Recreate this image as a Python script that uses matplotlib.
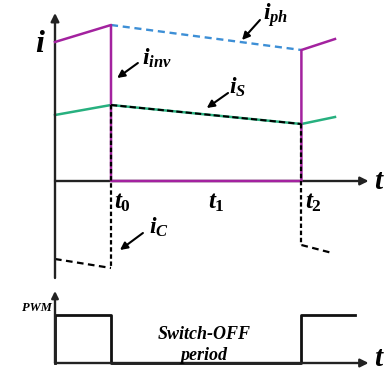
import matplotlib
matplotlib.use("Agg")
import matplotlib.pyplot as plt

plt.rcParams['mathtext.fontset'] = 'custom'
plt.rcParams['mathtext.it'] = 'Liberation Serif:italic:bold'
plt.rcParams['mathtext.rm'] = 'Liberation Serif:bold'
plt.rcParams['mathtext.bf'] = 'Liberation Serif:italic:bold'

# key instants (t0 = 1)
t_key = [0.0, 1.0, 4.4, 5.0]

# inverter current (purple)
inv_t = [0.0, 1.0, 1.0, 4.4, 4.4, 5.0]
inv_v = [13.9, 15.6, 0.0, 0.0, 13.1, 14.2]

# phase current during switch-off (blue dashed)
ph_t = [1.0, 4.4]
ph_v = [15.6, 13.1]

# source current (green)
s_t = [0.0, 1.0, 4.4, 5.0]
s_v = [6.6, 7.6, 5.7, 6.4]

# capacitor current (black dashed)
c1_t = [0.0, 1.0]
c1_v = [-7.8, -8.7]
c2_t = [4.4, 4.95]
c2_v = [-6.4, -7.2]

# PWM signal
pwm_t = [0.0, 0.0, 1.0, 1.0, 4.4, 4.4, 5.36]
pwm_v = [0, 1, 1, 0, 0, 1, 1]

purple = '#a3229f'
green = '#27b07f'
blue = '#3d8fd6'

fig = plt.figure(figsize=(3.86, 3.71), dpi=100)
ax = fig.add_axes([0, 86 / 371, 1, 285 / 371])
ax.set_xlim(-55 / 56, 331 / 56)
ax.set_ylim(-10.4, 18.1)
ax.axis('off')

bf = dict(family='Liberation Serif', weight='bold', style='italic')

# axes
ax.annotate('', xy=(0, 16.8), xytext=(0, -9.7),
            arrowprops=dict(arrowstyle='-|>', color='#222222', lw=1.7,
                            mutation_scale=12, shrinkA=0, shrinkB=0))
ax.annotate('', xy=(5.6, 0), xytext=(0, 0),
            arrowprops=dict(arrowstyle='-|>', color='#222222', lw=1.7,
                            mutation_scale=12, shrinkA=0, shrinkB=0))

# curves
ax.plot(inv_t, inv_v, color=purple, lw=1.8, zorder=3)
ax.plot(ph_t, ph_v, color=blue, lw=1.7, ls=(0, (3, 2)))
ax.plot(s_t, s_v, color=green, lw=1.8)
ax.plot(s_t[1:3], s_v[1:3], color='black', lw=1.5, ls=(0, (3, 1.5)), zorder=4)
ax.plot([t_key[1], t_key[1]], [s_v[1], c1_v[1]], color='black', lw=1.6,
        ls=(0, (2, 1.2)), zorder=4)
ax.plot([t_key[2], t_key[2]], [s_v[2], c2_v[0]], color='black', lw=1.6,
        ls=(0, (2, 1.2)), zorder=4)
ax.plot(c1_t, c1_v, color='black', lw=1.6, ls=(0, (3, 2)))
ax.plot(c2_t, c2_v, color='black', lw=1.6, ls=(0, (3, 2)))

# labels
ax.text(-0.27, 13.8, r'$i$', fontsize=23, ha='center', va='center')
ax.text(5.8, 0.0, r'$t$', fontsize=21, ha='center', va='center')
ax.text(1.05, -2.1, r'$t_0$', fontsize=18, ha='left', va='center')
ax.text(2.88, -2.1, r'$t_1$', fontsize=18, ha='center', va='center')
ax.text(4.46, -2.1, r'$t_2$', fontsize=18, ha='left', va='center')

arr = dict(arrowstyle='-|>', color='black', lw=1.5, mutation_scale=11,
           shrinkA=0, shrinkB=0)
ax.annotate('', xy=(3.34, 14.1), xytext=(3.66, 16.1), arrowprops=arr)
ax.text(3.72, 16.6, r'$i_{ph}$', fontsize=17, ha='left', va='center')
ax.annotate('', xy=(1.11, 10.3), xytext=(1.48, 11.8), arrowprops=arr)
ax.text(1.55, 12.3, r'$i_{inv}$', fontsize=17, ha='left', va='center')
ax.annotate('', xy=(2.71, 7.3), xytext=(3.09, 8.8), arrowprops=arr)
ax.text(3.1, 9.4, r'$i_S$', fontsize=17, ha='left', va='center')
ax.annotate('', xy=(1.16, -6.9), xytext=(1.57, -5.2), arrowprops=arr)
ax.text(1.68, -4.6, r'$i_C$', fontsize=17, ha='left', va='center')

# PWM panel
bx = fig.add_axes([0, 0, 1, 86 / 371])
bx.set_xlim(-55 / 56, 331 / 56)
bx.set_ylim(-8 / 48, 78 / 48)
bx.axis('off')
bx.annotate('', xy=(0, 1.5), xytext=(0, 0),
            arrowprops=dict(arrowstyle='-|>', color='#222222', lw=1.7,
                            mutation_scale=10, shrinkA=0, shrinkB=0))
bx.annotate('', xy=(5.6, 0), xytext=(0, 0),
            arrowprops=dict(arrowstyle='-|>', color='#222222', lw=1.7,
                            mutation_scale=12, shrinkA=0, shrinkB=0))
bx.plot(pwm_t, pwm_v, color='#111111', lw=2.0)
bx.text(-0.05, 1.15, 'PWM', fontsize=9, ha='right', va='center', **bf)
bx.text(5.8, 0.1, r'$t$', fontsize=21, ha='center', va='center')
bx.text(2.66, 0.6, 'Switch-OFF', fontsize=13, ha='center', va='center', **bf)
bx.text(2.66, 0.15, 'period', fontsize=13, ha='center', va='center', **bf)

fig.savefig('out.png', dpi=100)
